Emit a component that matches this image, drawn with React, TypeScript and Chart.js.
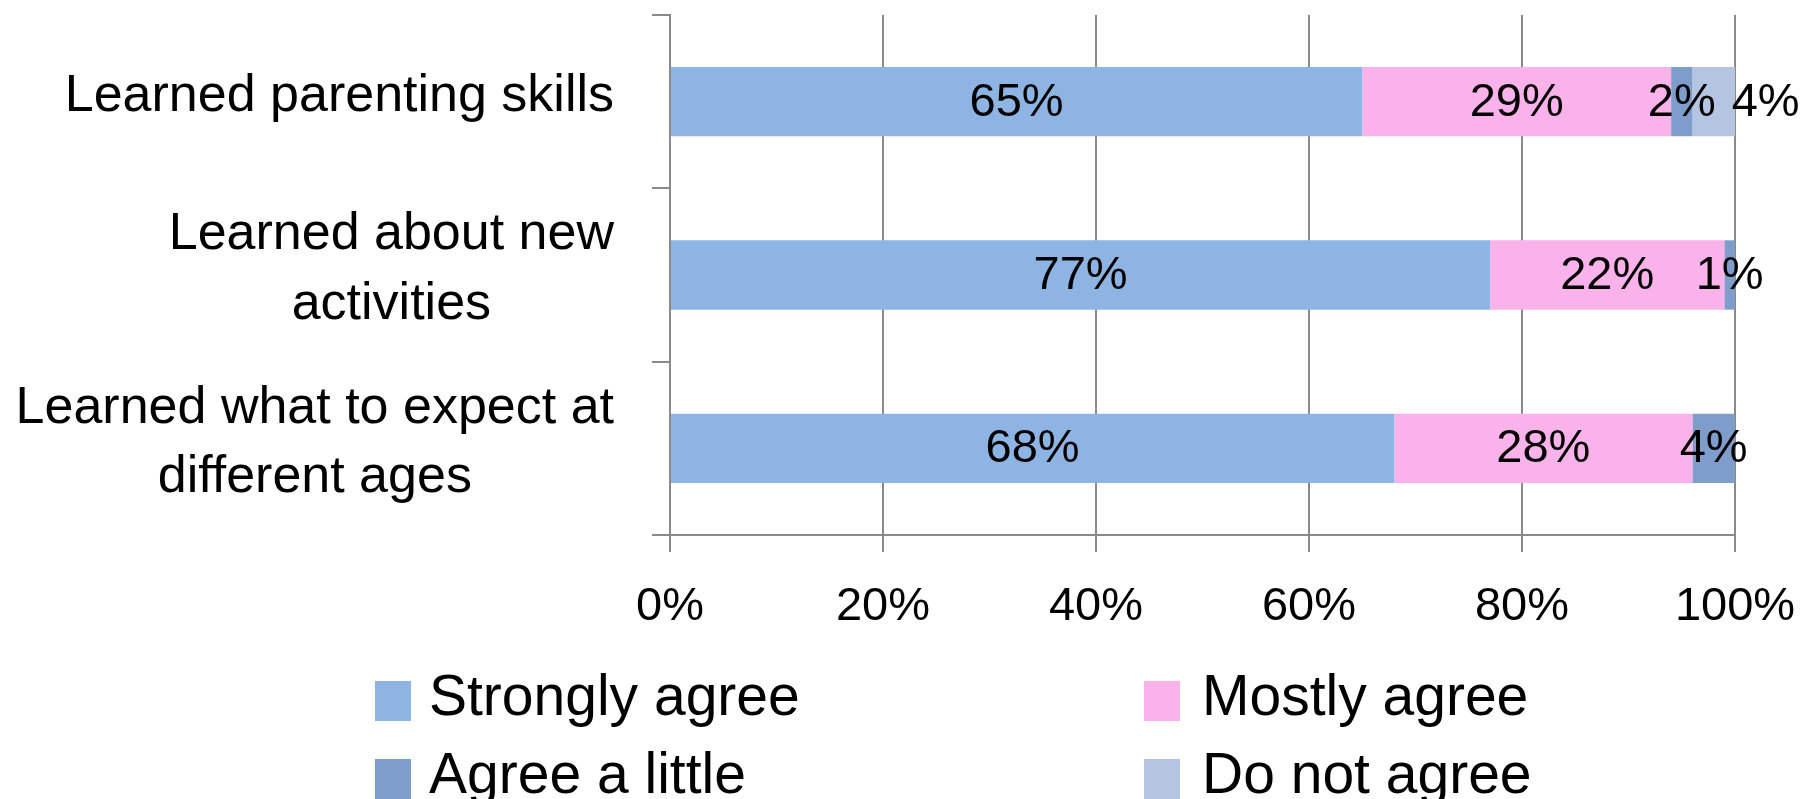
import React, { useEffect, useRef } from 'react';
import { Chart, registerables } from 'chart.js';

Chart.register(...registerables);

// ---------- data ----------
const categories: string[][] = [
  ['Learned parenting skills'],
  ['Learned about new', 'activities'],
  ['Learned what to expect at', 'different ages'],
];
const seriesNames = ['Strongly agree', 'Mostly agree', 'Agree a little', 'Do not agree'];
const stronglyAgree = [65, 77, 68];
const mostlyAgree = [29, 22, 28];
const agreeALittle = [2, 1, 4];
const doNotAgree = [4, 0, 0];
const xTickValues = [0, 20, 40, 60, 80, 100];
const seriesColors = ['#8EB4E3', '#FAB2EA', '#7F9DCA', '#B5C4E0'];

// ---------- layout / style ----------
const W = 1803;
const H = 799;
const AREA = { left: 670, top: 15, right: 1735, bottom: 535 };
const GRID_COLOR = '#8a8a8a';
const FAMILY = "'Liberation Sans', Arial, sans-serif";

function fitSize(text: string, target: number): number {
  const c = document.createElement('canvas').getContext('2d')!;
  c.font = `100px ${FAMILY}`;
  return Math.round((100 * target) / c.measureText(text).width);
}

export default function App() {
  const ref = useRef<HTMLCanvasElement | null>(null);

  useEffect(() => {
    const canvas = ref.current;
    if (!canvas) return;
    const catSize = fitSize('Learned parenting skills', 554);
    const tickSize = fitSize('100%', 120);
    const valueSize = fitSize('65%', 95);
    const legendSize = fitSize('Strongly agree', 370);

    const seriesData = [stronglyAgree, mostlyAgree, agreeALittle, doNotAgree];

    const categoryLabelsPlugin = {
      id: 'categoryLabels',
      afterDraw(chart: any) {
        const ctx = chart.ctx;
        const y = chart.scales.y;
        ctx.save();
        ctx.font = `${catSize}px ${FAMILY}`;
        ctx.fillStyle = '#000';
        ctx.textAlign = 'center';
        ctx.textBaseline = 'alphabetic';
        const rightEdge = 614;
        const lineGap = 69.5;
        categories.forEach((lines, i) => {
          const cy = y.getPixelForValue(i);
          const bw = Math.max(...lines.map((l) => ctx.measureText(l).width));
          const cx = rightEdge - bw / 2;
          lines.forEach((l, j) => {
            const by = cy + (j - (lines.length - 1) / 2) * lineGap + 9;
            ctx.fillText(l, cx, by);
          });
        });
        ctx.restore();
      },
    };

    const valueLabelsPlugin = {
      id: 'valueLabels',
      afterDatasetsDraw(chart: any) {
        const ctx = chart.ctx;
        ctx.save();
        ctx.font = `${valueSize}px ${FAMILY}`;
        ctx.fillStyle = '#000';
        ctx.textAlign = 'left';
        ctx.textBaseline = 'middle';
        const gap = 16;
        categories.forEach((_, i) => {
          let prevRight = -Infinity;
          chart.data.datasets.forEach((ds: any, d: number) => {
            const v = ds.data[i];
            if (!v) return;
            const el = chart.getDatasetMeta(d).data[i];
            const txt = `${v}%`;
            const w = ctx.measureText(txt).width;
            let left = (el.x + el.base) / 2 - w / 2;
            if (left < prevRight + gap) left = prevRight + gap;
            ctx.fillText(txt, left, el.y + 1);
            prevRight = left + w;
          });
        });
        ctx.restore();
      },
    };

    const legendPlugin = {
      id: 'gridLegend',
      afterDraw(chart: any) {
        const ctx = chart.ctx;
        ctx.save();
        ctx.font = `${legendSize}px ${FAMILY}`;
        ctx.textBaseline = 'middle';
        ctx.textAlign = 'left';
        const colBoxX = [375, 1144];
        const colTextX = [429, 1202];
        const rowY = [701, 779];
        chart.data.datasets.forEach((ds: any, d: number) => {
          const c = d % 2;
          const cy = rowY[Math.floor(d / 2)];
          ctx.fillStyle = ds.backgroundColor;
          ctx.fillRect(colBoxX[c], cy - 20, 36, 40);
          ctx.fillStyle = '#000';
          ctx.fillText(ds.label, colTextX[c], cy - 2);
        });
        ctx.restore();
      },
    };

    const chart = new Chart(canvas, {
      type: 'bar',
      data: {
        labels: categories.map((c) => c.join(' ')),
        datasets: seriesNames.map((name, k) => ({
          label: name,
          data: seriesData[k],
          backgroundColor: seriesColors[k],
          borderWidth: 0,
          barPercentage: 0.4,
          categoryPercentage: 1,
        })),
      },
      options: {
        indexAxis: 'y',
        animation: false,
        responsive: false,
        layout: {
          padding: { left: 0, top: AREA.top, right: W - AREA.right, bottom: 0 },
        },
        plugins: {
          legend: { display: false },
          tooltip: { enabled: false },
          title: { display: false },
        },
        scales: {
          x: {
            stacked: true,
            min: 0,
            max: 100,
            afterBuildTicks: (scale: any) => {
              scale.ticks = xTickValues.map((v) => ({ value: v }));
            },
            afterFit: (scale: any) => {
              scale.height = H - AREA.bottom;
              scale.paddingLeft = 0;
              scale.paddingRight = 0;
            },
            ticks: {
              callback: (v: any) => `${v}%`,
              color: '#000',
              font: { family: FAMILY, size: tickSize, lineHeight: 1.2 },
              padding: 607 - (AREA.bottom + 17) - 0.6 * tickSize,
              maxRotation: 0,
              autoSkip: false,
            },
            grid: {
              color: GRID_COLOR,
              lineWidth: 2,
              drawTicks: true,
              tickLength: 17,
            },
            border: { display: true, color: GRID_COLOR, width: 2 },
          },
          y: {
            stacked: true,
            afterFit: (scale: any) => {
              scale.width = AREA.left;
            },
            ticks: { display: false },
            grid: {
              offset: true,
              drawOnChartArea: false,
              drawTicks: true,
              tickLength: 18,
              color: GRID_COLOR,
              lineWidth: 2,
            },
            border: { display: true, color: GRID_COLOR, width: 2 },
          },
        },
      },
      plugins: [categoryLabelsPlugin, valueLabelsPlugin, legendPlugin],
    } as any);

    return () => chart.destroy();
  }, []);

  return (
    <div style={{ position: 'absolute', left: 0, top: 0, width: W, height: H, background: '#fff' }}>
      <canvas ref={ref} width={W} height={H} />
    </div>
  );
}
